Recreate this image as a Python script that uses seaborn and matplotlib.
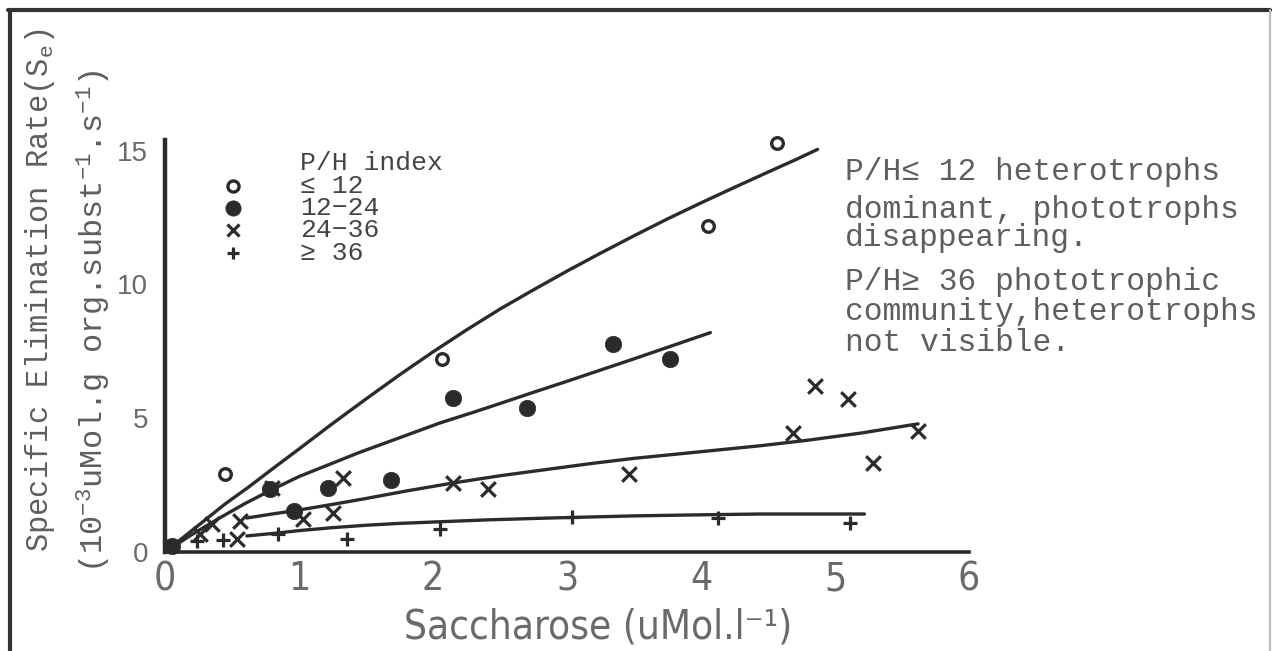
import matplotlib
matplotlib.use("Agg")
import matplotlib.pyplot as plt
from matplotlib.lines import Line2D
import seaborn as sns

# ---------------- data ----------------
open_x = [0.45, 2.07, 4.05, 4.57]
open_y = [2.92, 7.23, 12.17, 15.28]

filled_x = [0.05, 0.78, 0.96, 1.22, 1.69, 2.15, 2.70, 3.34, 3.77]
filled_y = [0.22, 2.36, 1.54, 2.40, 2.70, 5.77, 5.39, 7.79, 7.23]

cross_x = [0.26, 0.35, 0.54, 0.56, 0.80, 1.03, 1.25, 1.33, 2.15, 2.41, 3.46, 4.69, 4.85, 5.10, 5.28, 5.62]
cross_y = [0.67, 1.05, 0.49, 1.16, 2.40, 1.24, 1.46, 2.77, 2.58, 2.36, 2.92, 4.46, 6.22, 5.73, 3.33, 4.53]

plus_x = [0.24, 0.43, 0.84, 1.36, 2.05, 3.04, 4.13, 5.11]
plus_y = [0.41, 0.45, 0.67, 0.49, 0.86, 1.31, 1.27, 1.09]

# fitted curves, points
curve1_x = [0, 0.15, 0.30, 0.45, 0.63, 0.80, 1.00, 1.25, 1.50, 1.75, 2.00, 2.25, 2.50, 2.75,
            3.00, 3.25, 3.50, 3.75, 4.00, 4.25, 4.50, 4.70, 4.87]
curve1_y = [0, 0.60, 1.20, 1.80, 2.45, 3.10, 3.85, 4.80, 5.72, 6.62, 7.48, 8.30, 9.08, 9.80,
            10.50, 11.17, 11.82, 12.45, 13.05, 13.63, 14.20, 14.65, 15.05]

curve2_x = [0, 0.20, 0.40, 0.60, 0.81, 1.00, 1.20, 1.45, 1.75, 2.05, 2.30, 2.50, 2.75, 3.00,
            3.25, 3.50, 3.75, 4.07]
curve2_y = [0, 0.65, 1.25, 1.82, 2.36, 2.82, 3.22, 3.72, 4.27, 4.82, 5.22, 5.55, 5.97, 6.38,
            6.80, 7.22, 7.65, 8.20]

curve3_x = [0.61, 0.80, 1.00, 1.25, 1.50, 1.80, 2.15, 2.50, 2.87, 3.20, 3.50, 4.00, 4.44,
            4.80, 5.20, 5.62]
curve3_y = [1.27, 1.42, 1.57, 1.78, 2.00, 2.28, 2.58, 2.85, 3.10, 3.32, 3.50, 3.75, 3.97,
            4.18, 4.45, 4.79]

curve4_x = [0.61, 0.84, 1.00, 1.25, 1.50, 1.75, 2.00, 2.40, 2.87, 3.50, 4.00, 4.44, 4.80, 5.22]
curve4_y = [0.60, 0.71, 0.80, 0.91, 1.00, 1.07, 1.12, 1.20, 1.27, 1.35, 1.39, 1.42, 1.42, 1.42]

x_ticks = [0, 1, 2, 3, 4, 5, 6]
y_ticks = [0, 5, 10, 15]

legend_title = "P/H index"
legend_labels = ["\u2264 12", "12\u221224", "24\u221236", "\u2265 36"]

note_lines = ["P/H\u2264 12 heterotrophs", "dominant, phototrophs", "disappearing.",
              "P/H\u2265 36 phototrophic", "community,heterotrophs", "not visible."]

# ---------------- style ----------------
sns.set_theme(style="white")
plt.rcParams["font.family"] = ["Liberation Mono", "DejaVu Sans Mono"]
plt.rcParams["mathtext.fontset"] = "custom"
plt.rcParams["mathtext.rm"] = "Liberation Mono"
plt.rcParams["mathtext.it"] = "Liberation Mono"
plt.rcParams["mathtext.bf"] = "Liberation Mono"

INK = "#2b2b2b"
TXT = "#5e5e5e"
SANS = dict(family=["DejaVu Sans"], stretch="condensed", weight="light")
W, H = 1276, 651
fig = plt.figure(figsize=(W / 100, H / 100), dpi=100)
fig.patch.set_facecolor("white")

def fx(px):
    return px / W

def fy(py):
    return 1 - py / H

ax_left, ax_right = 165, 969
ax_bottom, ax_top = 552, 140
ax = fig.add_axes([fx(ax_left), fy(ax_bottom), (ax_right - ax_left) / W, (ax_bottom - ax_top) / H])
ax.set_facecolor("white")

# curves
for cx, cy in [(curve1_x, curve1_y), (curve2_x, curve2_y), (curve3_x, curve3_y), (curve4_x, curve4_y)]:
    sns.lineplot(x=cx, y=cy, sort=False, estimator=None, color=INK, lw=2.4, ax=ax)

# points
sns.scatterplot(x=open_x, y=open_y, marker="o", s=70, facecolor="white", edgecolor=INK,
                linewidth=2.4, ax=ax, clip_on=False, zorder=3)
sns.scatterplot(x=filled_x, y=filled_y, marker="o", s=140, color=INK, edgecolor=INK,
                linewidth=0.5, ax=ax, clip_on=False, zorder=3)
sns.scatterplot(x=cross_x, y=cross_y, marker="x", s=110, color=INK, linewidth=2.3,
                ax=ax, clip_on=False, zorder=3)
sns.scatterplot(x=plus_x, y=plus_y, marker="+", s=110, color=INK, linewidth=2.3,
                ax=ax, clip_on=False, zorder=3)

ax.set_xlim(0, 6)
ax.set_ylim(0, 15.4)
ax.set_xticks(x_ticks)
ax.set_yticks(y_ticks)
ax.set_xticklabels([str(t) for t in x_ticks], fontsize=28, color="#6a6a6a", **SANS)
ax.set_yticklabels([str(t) for t in y_ticks], family=["Liberation Sans", "DejaVu Sans"],
                   fontsize=20, color="#6a6a6a")
ax.tick_params(axis="x", direction="inout", length=10, width=2, color=INK, pad=1)
ax.tick_params(axis="y", direction="out", length=6, width=2, color=INK, pad=6)
for side in ["top", "right"]:
    ax.spines[side].set_visible(False)
ax.spines["left"].set_linewidth(3.2)
ax.spines["left"].set_color(INK)
ax.spines["bottom"].set_linewidth(2.6)
ax.spines["bottom"].set_color(INK)
ax.grid(False)

# axis labels
fig.text(fx(598), fy(628), "Saccharose (uMol.l\u207b\u00b9)", fontsize=29, color="#6a6a6a",
         ha="center", va="center", **SANS)
fig.text(fx(40), fy(290), r"Specific Elimination Rate(S$_{\rm e}$)", rotation=90,
         fontsize=22, color=TXT, ha="center", va="center")
fig.text(fx(94), fy(321), r"(10$^{-3}$uMol.g org.subst$^{-1}$.s$^{-1}$)", rotation=90,
         fontsize=23, color=TXT, ha="center", va="center")

# legend (manual, typewriter style)
fig.text(fx(300), fy(163), legend_title, fontsize=19, color="#444444", ha="left", va="center")
leg_rows = [186, 208, 230, 253]
leg_styles = [dict(marker="o", ms=8, mfc="white", mec=INK, mew=2.4),
              dict(marker="o", ms=11, mfc=INK, mec=INK, mew=0.5),
              dict(marker="x", ms=9, mec=INK, mew=2.3),
              dict(marker="+", ms=9, mec=INK, mew=2.3)]
for row, lab, st in zip(leg_rows, legend_labels, leg_styles):
    fig.add_artist(Line2D([fx(233)], [fy(row)], transform=fig.transFigure, linestyle="none", **st))
    fig.text(fx(300), fy(row), lab, fontsize=19, color="#444444", ha="left", va="center")

# right-hand note
note_rows = [172, 210, 238, 282, 312, 343]
for row, line in zip(note_rows, note_lines):
    fig.text(fx(845), fy(row), line, fontsize=22.5, color=TXT, ha="left", va="center")

# frame of the scanned page
fig.add_artist(Line2D([fx(8), fx(1270)], [fy(10), fy(10)], transform=fig.transFigure, color="#333333", lw=3))
fig.add_artist(Line2D([fx(10), fx(10)], [fy(10), fy(651)], transform=fig.transFigure, color="#333333", lw=3))
fig.add_artist(Line2D([fx(1270), fx(1270)], [fy(10), fy(651)], transform=fig.transFigure, color="#bbbbbb", lw=1.5))

fig.savefig("out.png", dpi=100, facecolor="white")
